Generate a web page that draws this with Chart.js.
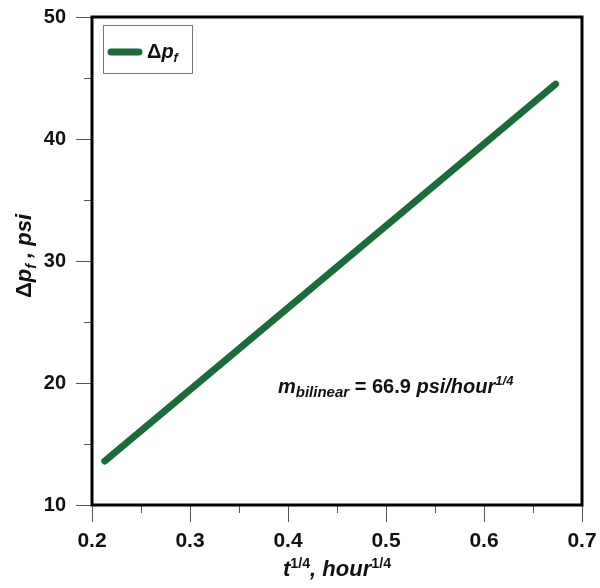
<!DOCTYPE html>
<html>
<head>
<meta charset="utf-8">
<script src="https://cdn.jsdelivr.net/npm/chart.js@4.4.0/dist/chart.umd.min.js"></script>
<style>
  html, body { margin: 0; padding: 0; background: #fff; }
  #wrap { width: 600px; height: 588px; position: relative; }
</style>
</head>
<body>
<div id="wrap"><canvas id="myChart"></canvas></div>
<script>
// values
const tQuarter = [0.213, 0.673]
const deltaPf = [13.6, 44.5]
const xTicks = [0.2, 0.3, 0.4, 0.5, 0.6, 0.7]
const xMinorTicks = [0.25, 0.35, 0.45, 0.55, 0.65]
const yTicks = [10, 20, 30, 40, 50]
const yMinorTicks = [15, 25, 35, 45]
const slope = '66.9'

const green = '#1b6b3b'
const FONT = '"Liberation Sans", Arial, sans-serif'

// draw text made of pieces, some as sub / superscript
function partSize(p, size) {
    if (p.size) return p.size
    return p.kind ? size * 0.65 : size
}
function richWidth(ctx, parts, size) {
    let w = 0
    parts.forEach(p => {
        ctx.font = `${p.italic ? 'italic ' : ''}bold ${partSize(p, size)}px ${FONT}`
        w += ctx.measureText(p.text).width
    })
    return w
}
function drawRich(ctx, parts, x, y, size) {
    let cx = x
    parts.forEach(p => {
        ctx.font = `${p.italic ? 'italic ' : ''}bold ${partSize(p, size)}px ${FONT}`
        let dy = 0
        if (p.kind === 'sub') dy = size * 0.22
        if (p.kind === 'sup') dy = -size * 0.38
        ctx.fillText(p.text, cx, y + dy)
        cx += ctx.measureText(p.text).width
    })
}

const decorations = {
    id: 'decorations',
    afterDraw(chart) {
        const ctx = chart.ctx
        const area = chart.chartArea
        const xs = chart.scales.x
        const ys = chart.scales.y
        ctx.save()

        // tick marks outside the frame
        ctx.strokeStyle = '#555'
        ctx.lineWidth = 1
        ctx.beginPath()
        xTicks.forEach(v => {
            const px = Math.round(xs.getPixelForValue(v)) + 0.5
            ctx.moveTo(px, area.bottom); ctx.lineTo(px, area.bottom + 17)
        })
        xMinorTicks.forEach(v => {
            const px = Math.round(xs.getPixelForValue(v)) + 0.5
            ctx.moveTo(px, area.bottom); ctx.lineTo(px, area.bottom + 8)
        })
        yTicks.forEach(v => {
            const py = Math.round(ys.getPixelForValue(v)) + 0.5
            ctx.moveTo(area.left, py); ctx.lineTo(area.left - 16, py)
        })
        yMinorTicks.forEach(v => {
            const py = Math.round(ys.getPixelForValue(v)) + 0.5
            ctx.moveTo(area.left, py); ctx.lineTo(area.left - 8, py)
        })
        ctx.stroke()

        // frame
        ctx.strokeStyle = '#000'
        ctx.lineWidth = 3
        ctx.strokeRect(area.left, area.top, area.right - area.left, area.bottom - area.top)

        // legend
        ctx.lineWidth = 1
        ctx.strokeStyle = '#777'
        ctx.strokeRect(103.5, 25.5, 89, 48)
        ctx.strokeStyle = green
        ctx.lineWidth = 7
        ctx.lineCap = 'round'
        ctx.beginPath()
        ctx.moveTo(111, 52); ctx.lineTo(139, 52)
        ctx.stroke()
        ctx.fillStyle = '#111'
        ctx.textBaseline = 'alphabetic'
        ctx.textAlign = 'left'
        drawRich(ctx, [
            { text: 'Δ' },
            { text: 'p', italic: true },
            { text: 'f', italic: true, kind: 'sub' }
        ], 147, 58, 20)

        // slope note
        drawRich(ctx, [
            { text: 'm', italic: true },
            { text: 'bilinear', italic: true, kind: 'sub', size: 15 },
            { text: ' = ' + slope + ' ' },
            { text: 'psi/hour', italic: true },
            { text: '1/4', italic: true, kind: 'sup', size: 13 }
        ], 278, 393, 20)

        // x axis title
        const xt = [
            { text: 't', italic: true },
            { text: '1/4', kind: 'sup' },
            { text: ', hour', italic: true },
            { text: '1/4', kind: 'sup' }
        ]
        const cx = (area.left + area.right) / 2
        drawRich(ctx, xt, cx - richWidth(ctx, xt, 22) / 2, 576, 22)

        // y axis title, rotated
        const yt = [
            { text: 'Δ' },
            { text: 'p', italic: true },
            { text: 'f', italic: true, kind: 'sub' },
            { text: ' , psi', italic: true }
        ]
        ctx.translate(31, (area.top + area.bottom) / 2 - 5)
        ctx.rotate(-Math.PI / 2)
        drawRich(ctx, yt, -richWidth(ctx, yt, 22) / 2, 0, 22)
        ctx.restore()
    }
}

const ctx = document.getElementById('myChart').getContext('2d')
const myChart = new Chart(ctx, {
    type: 'scatter',
    data: {
        datasets: [{
            label: 'Δpf',
            data: tQuarter.map((t, i) => ({ x: t, y: deltaPf[i] })),
            showLine: true,
            borderColor: green,
            borderWidth: 7,
            borderCapStyle: 'round',
            pointRadius: 0,
            fill: false
        }]
    },
    options: {
        responsive: true,
        maintainAspectRatio: false,
        animation: false,
        layout: { padding: { top: 17, right: 18, left: 0, bottom: 0 } },
        plugins: {
            legend: { display: false },
            tooltip: { enabled: false }
        },
        scales: {
            x: {
                type: 'linear',
                min: 0.2,
                max: 0.7,
                afterBuildTicks: s => { s.ticks = xTicks.map(v => ({ value: v })) },
                afterFit: s => { s.height = 83; s.paddingLeft = 0; s.paddingRight = 0 },
                grid: { display: false, drawTicks: false },
                border: { display: false },
                ticks: {
                    padding: 24,
                    color: '#111',
                    font: { family: FONT, size: 21, weight: 'bold' },
                    callback: v => v.toFixed(1)
                }
            },
            y: {
                type: 'linear',
                min: 10,
                max: 50,
                afterBuildTicks: s => { s.ticks = yTicks.map(v => ({ value: v })) },
                afterFit: s => { s.width = 92; s.paddingTop = 0; s.paddingBottom = 0 },
                grid: { display: false, drawTicks: false },
                border: { display: false },
                ticks: {
                    padding: 26,
                    color: '#111',
                    font: { family: FONT, size: 20, weight: 'bold' }
                }
            }
        }
    },
    plugins: [decorations]
})
</script>
</body>
</html>
